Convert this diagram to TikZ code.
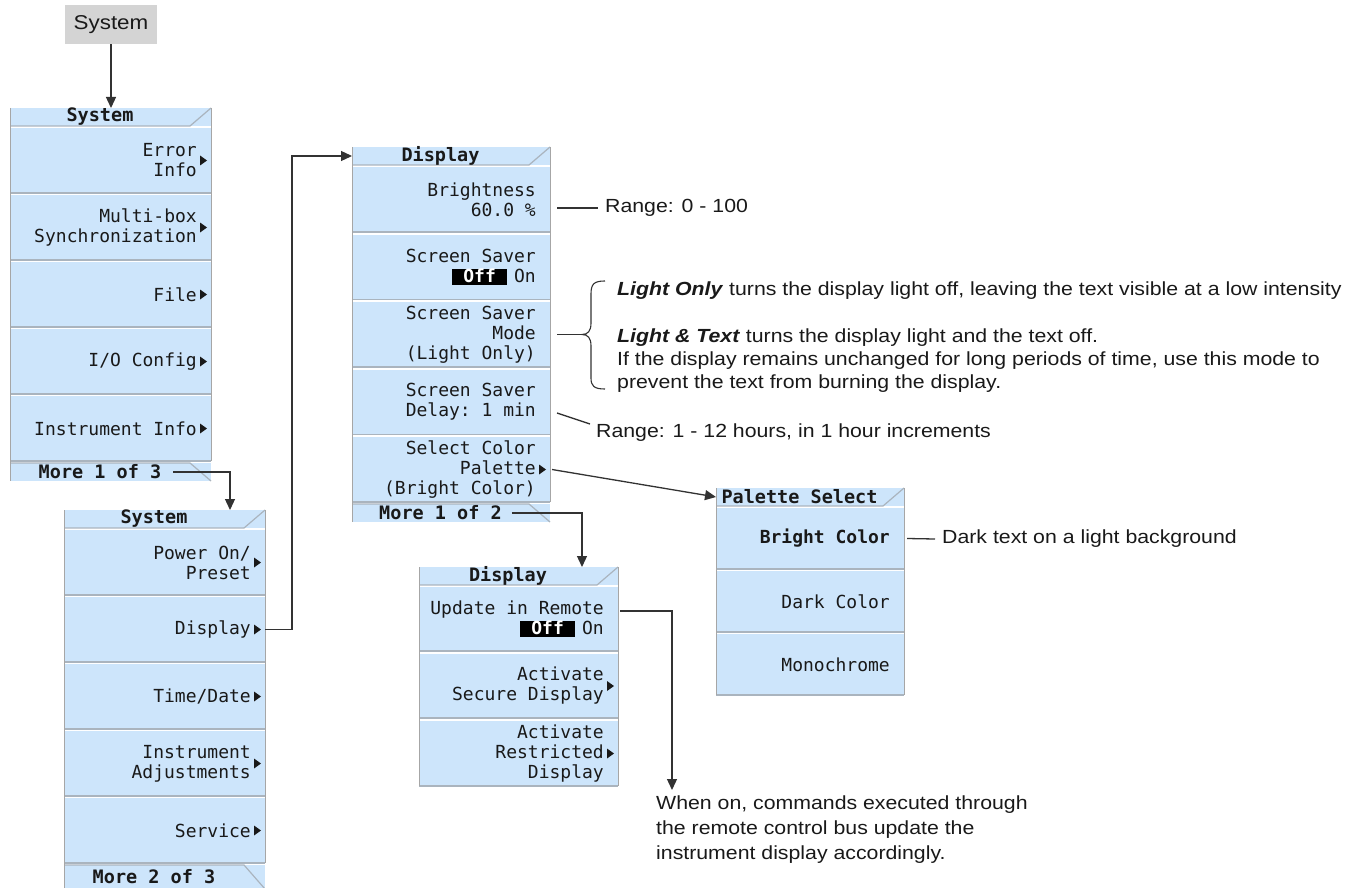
\documentclass[tikz,border=0pt]{standalone}
\usepackage{fontspec}
\setmonofont{DejaVu Sans Mono}
\newfontfamily\annotfont[FakeStretch=1.12]{Liberation Sans}
\usetikzlibrary{arrows.meta,calc}
\definecolor{menublue}{RGB}{205,229,251}
\definecolor{keygray}{RGB}{212,212,212}
\definecolor{txt}{RGB}{25,25,25}
\definecolor{sepcol}{RGB}{170,180,190}
\definecolor{conncol}{RGB}{50,50,50}
\tikzset{
 keybox/.style={fill=menublue,draw=none,inner sep=0pt,outer sep=0pt},
 keytext/.style={font=\ttfamily\fontsize{18}{20}\selectfont,text=txt,align=right,inner sep=0pt},
 titletext/.style={font=\ttfamily\bfseries\fontsize{18.5}{20}\selectfont,text=txt,inner sep=0pt},
 sepline/.style={draw=sepcol,line width=1.2pt},
 edgeline/.style={draw=gray!70,line width=1pt},
 conn/.style={draw=conncol,line width=1.3pt},
 arr/.style={conn,-{Triangle[length=11pt,width=10pt]}},
 annot/.style={font=\annotfont\fontsize{19}{23}\selectfont,text=txt,inner sep=0pt,align=left},
 annotw/.style={font=\annotfont\fontsize{19}{25}\selectfont,text=txt,inner sep=0pt,align=left},
}
\newcommand\skey[7]{%
 \node[keybox,minimum width=#4pt,minimum height=#5pt,anchor=north west] (#1) at (#2,#3) {};
 \draw[sepline] (#1.south west) -- (#1.south east);
 \node[keytext,anchor=east] (#1t) at ([xshift=-14pt]#1.east) {#6};
 \ifnum#7=1 \fill[txt] ([xshift=-11pt,yshift=5pt]#1.east) -- ([xshift=-4pt]#1.east) -- ([xshift=-11pt,yshift=-5pt]#1.east) -- cycle;\fi
}
\newcommand\mhead[5]{%
 \node[keybox,minimum width=#4pt,minimum height=18pt,anchor=north west] (#1) at (#2,#3) {};
 \draw[sepline] (#1.south west) -- ([xshift=-21pt]#1.south east) -- (#1.north east);
 \node[titletext] (#1t) at ([xshift=-10.5pt]#1.center) {#5};
}
\newcommand\mtab[6]{%
 \node[keybox,minimum width=#4pt,minimum height=#5pt,anchor=north west] (#1) at (#2,#3) {};
 \draw[sepline] (#1.north west) -- ([xshift=-21pt]#1.north east) -- (#1.south east);
 \node[titletext] (#1t) at ([xshift=-10.5pt]#1.center) {#6};
}
\newcommand\offbox{{\setlength\fboxsep{0pt}\colorbox{black}{\makebox[55pt]{\rule[-2pt]{0pt}{15pt}\textcolor{white}{\bfseries Off}}}}}
\begin{document}
\begin{tikzpicture}[x=1pt,y=-1pt]
\useasboundingbox (0,0) rectangle (1361,888);
% top key
\node[fill=keygray,minimum width=92pt,minimum height=39pt,inner sep=0pt,font=\annotfont\fontsize{20}{22}\selectfont,text=txt] (sys) at (111,24.5) {System};
% Menu 1
\mhead{mah}{10}{108}{201}{System}
\skey{mak1}{10}{128}{201}{65}{Error\\Info}{1}
\skey{mak2}{10}{195}{201}{65}{Multi-box\\Synchronization}{1}
\skey{mak3}{10}{262}{201}{65}{File}{1}
\skey{mak4}{10}{329}{201}{65}{I/O Config}{1}
\skey{mak5}{10}{396}{201}{65}{Instrument Info}{1}
\mtab{matab}{10}{463}{201}{18}{More 1 of 3}
\draw[edgeline] (mah.north west) -- (matab.south west);
\draw[edgeline] (mah.north east) -- (mak5.south east);
% Menu 2
\mhead{mbh}{64}{510}{201}{System}
\skey{mbk1}{64}{530}{201}{65}{Power On/\\Preset}{1}
\skey{mbk2}{64}{597}{201}{65}{Display}{1}
\skey{mbk3}{64}{664}{201}{65}{Time/Date}{1}
\skey{mbk4}{64}{731}{201}{65}{Instrument\\Adjustments}{1}
\skey{mbk5}{64}{798}{201}{65}{Service}{1}
\mtab{mbtab}{64}{865}{201}{24}{More 2 of 3}
\draw[edgeline] (mbh.north west) -- (mbtab.south west);
\draw[edgeline] (mbh.north east) -- (mbk5.south east);
% Display menu
\mhead{dh}{352}{147}{198}{Display}
\skey{dk1}{352}{167}{198}{65}{Brightness\\60.0 \%}{0}
\skey{dk2}{352}{234.5}{198}{65}{Screen Saver\\\offbox\hspace{7pt}On\hspace{8pt}}{0}
\skey{dk3}{352}{302}{198}{65}{Screen Saver\\Mode\\(Light Only)}{0}
\skey{dk4}{352}{369.5}{198}{65}{Screen Saver\\Delay: 1 min}{0}
\skey{dk5}{352}{437}{198}{65}{Select Color\\Palette\\(Bright Color)}{1}
\mtab{dtab}{352}{504}{198}{18}{More 1 of 2}
\draw[edgeline] (dh.north west) -- (dtab.south west);
\draw[edgeline] (dh.north east) -- (dk5.south east);
% Display menu 2
\mhead{eh}{419}{567}{199}{Display}
\skey{ek1}{419}{587}{199}{64}{Update in Remote\\\offbox\hspace{7pt}On\hspace{11pt}}{0}
\skey{ek2}{419}{654}{199}{64}{Activate\\Secure Display}{1}
\skey{ek3}{419}{721}{199}{65}{Activate\\Restricted\\Display}{1}
\draw[edgeline] (eh.north west) -- (ek3.south west);
\draw[edgeline] (eh.north east) -- (ek3.south east);
% Palette select
\mhead{ph}{716}{488}{188}{Palette Select}
\skey{pk1}{716}{508}{188}{61}{\bfseries Bright Color}{0}
\skey{pk2}{716}{571}{188}{61}{Dark Color}{0}
\skey{pk3}{716}{634}{188}{61}{Monochrome}{0}
\draw[edgeline] (ph.north west) -- (pk3.south west);
\draw[edgeline] (ph.north east) -- (pk3.south east);
% annotations
\node[annot,anchor=west] (r1) at (605,208) {Range: 0 - 100};
\node[annot,anchor=west] (lo) at (617,291) {\textbf{\textit{Light Only}} turns the display light off, leaving the text visible at a low intensity};
\node[annot,anchor=west] (lt) at (617,361) {\textbf{\textit{Light \& Text}} turns the display light and the text off.\\If the display remains unchanged for long periods of time, use this mode to\\prevent the text from burning the display.};
\node[annot,anchor=west] (r2) at (596,433) {Range: 1 - 12 hours, in 1 hour increments};
\node[annot,anchor=west] (r3) at (942,539) {Dark text on a light background};
\node[annotw,anchor=west] (wn) at (656,830) {When on, commands executed through\\the remote control bus update the\\instrument display accordingly.};
% connectors
\draw[arr] (sys.south) -- (sys.south |- mah.north);
\coordinate (c2) at (230,0);
\draw[arr] ($(matabt.east)+(12,0)$) -- (c2 |- matabt.east) -- (c2 |- mbh.north);
\draw[arr] (mbk2.east) -- ++(27,0) |- (dh.west);
\draw[conn] ($(dk1.east |- r1.west)+(7,0)$) -- ($(r1.west)+(-7,0)$);
\draw[conn] ($(dk4.east)+(7,11)$) -- ($(r2.west)+(-6,-9)$);
\coordinate (btip) at (582,334.5);
\coordinate (btop) at (605,281);
\coordinate (bbot) at (605,389);
\draw[conn] ($(dk3.east)+(7,0)$) -- (btip);
\draw[conn,line width=1.1pt] (btop) .. controls (594,281) and (591,284) .. (591,294) -- (591,323) .. controls (591,331) and (588,334.5) .. (btip) .. controls (588,334.5) and (591,338) .. (591,346) -- (591,378) .. controls (591,386) and (594,389) .. (bbot);
\draw[arr] ($(dk5.east)+(2,0)$) -- (ph.west);
\coordinate (c8) at (582,0);
\draw[arr] ($(dtabt.east)+(10,0)$) -- (c8 |- dtabt.east) -- (c8 |- eh.north);
\coordinate (wtip) at (672,790);
\draw[arr] ($(ek1.east)+(2,-8)$) -| (wtip);
\draw[conn] ($(pk1.east)+(3,0)$) -- ($(r3.west)+(-7,0)$);
\end{tikzpicture}
\end{document}
